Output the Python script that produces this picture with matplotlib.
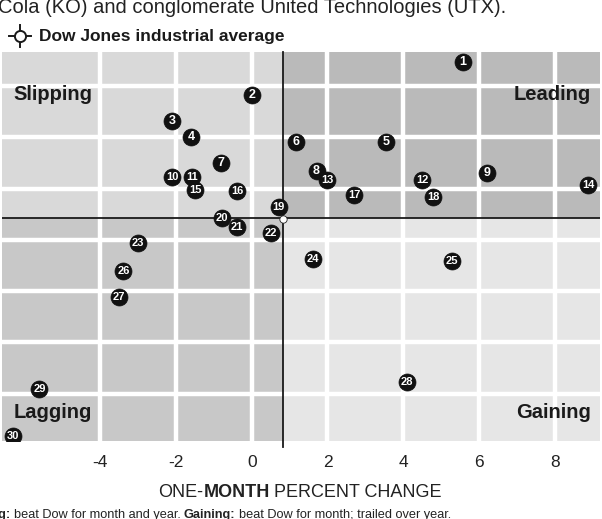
import matplotlib
matplotlib.use("Agg")
import matplotlib.pyplot as plt
from matplotlib.lines import Line2D

# ---- data ----
labels = list(range(1, 31))
month_change = [5.58, 0.00, -2.11, -1.61, 3.55, 1.18, -0.82, 1.71, 6.21, -2.11,
                -1.58, 4.50, 2.00, 8.89, -1.50, -0.39, 2.71, 4.79, 0.71, -0.79,
                -0.39, 0.50, -3.00, 1.61, 5.29, -3.39, -3.50, 4.11, -5.61, -6.32]
year_change = [34.7, 28.3, 23.2, 20.1, 19.1, 19.1, 15.0, 13.5, 13.1, 12.3,
               12.3, 11.7, 11.7, 10.7, 9.7, 9.6, 8.8, 8.4, 6.4, 4.3,
               2.5, 1.4, -0.6, -3.7, -4.1, -6.0, -11.1, -27.7, -29.0, -38.2]
dow_month = 0.82
dow_year = 4.3
x_ticks = [-4, -2, 0, 2, 4, 6, 8]
y_grid = [-30, -20, -10, 0, 10, 20, 30]
quadrants = {"Slipping": "#d9d9d9", "Leading": "#bababa",
             "Lagging": "#c8c8c8", "Gaining": "#e6e6e6"}

XMIN, XMAX = -6.6, 9.2
YMIN, YMAX = -39.2, 36.6

W, H = 602, 519
fig = plt.figure(figsize=(W / 100, H / 100), dpi=100)
fig.patch.set_facecolor("white")
ax = fig.add_axes([2 / W, 1 - 441 / H, 598 / W, 389 / H])
ax.set_xlim(XMIN, XMAX)
ax.set_ylim(YMIN, YMAX)
for s in ax.spines.values():
    s.set_visible(False)

# quadrant backgrounds
ax.fill_between([XMIN, dow_month], dow_year, YMAX, color=quadrants["Slipping"], lw=0, zorder=0)
ax.fill_between([dow_month, XMAX], dow_year, YMAX, color=quadrants["Leading"], lw=0, zorder=0)
ax.fill_between([XMIN, dow_month], YMIN, dow_year, color=quadrants["Lagging"], lw=0, zorder=0)
ax.fill_between([dow_month, XMAX], YMIN, dow_year, color=quadrants["Gaining"], lw=0, zorder=0)

# white grid
for xv in x_ticks:
    ax.axvline(xv, color="white", lw=3.2, zorder=1)
for yv in y_grid:
    ax.axhline(yv, color="white", lw=3.2, zorder=1)

# Dow axes
ax.axhline(dow_year, color="#1a1a1a", lw=1.3, zorder=2)
ax.add_line(Line2D([dow_month, dow_month], [YMAX, YMIN - 1.2], color="#1a1a1a",
                   lw=1.3, zorder=2, clip_on=False))

# points
fam = "Liberation Sans"
ax.scatter(month_change, year_change, s=150, color="#111111", zorder=4,
           edgecolors="#111111", linewidths=0.5)
for lab, xv, yv in zip(labels, month_change, year_change):
    ax.text(xv, yv, str(lab), color="white", fontsize=9 if lab < 10 else 8,
            fontweight="bold", family=fam,
            ha="center", va="center", zorder=5)

# Dow marker
ax.scatter([dow_month], [dow_year - 0.3], s=28, color="white", edgecolors="#222222",
           linewidths=0.6, zorder=5)

# quadrant labels
kw = dict(fontsize=14.5, fontweight="bold", family=fam, color="#1a1a1a", zorder=6)
ax.text(-6.3, 28.3, "Slipping", ha="left", va="center", **kw)
ax.text(8.95, 28.3, "Leading", ha="right", va="center", **kw)
ax.text(-6.3, -33.6, "Lagging", ha="left", va="center", **kw)
ax.text(8.95, -33.6, "Gaining", ha="right", va="center", **kw)

# x ticks
ax.set_xticks(x_ticks)
ax.set_xticklabels([f"{t}" if t >= 0 else f"-{abs(t)}" for t in x_ticks],
                   family=fam, fontsize=12.5, color="#222222")
ax.tick_params(axis="x", length=0, pad=10)
ax.set_yticks([])

# legend at top
fx = lambda px: px / W
fy = lambda py: 1 - py / H
lx, ly = 20, 36
fig.add_artist(Line2D([fx(lx - 11), fx(lx + 11)], [fy(ly), fy(ly)], color="#1a1a1a", lw=1.4))
fig.add_artist(Line2D([fx(lx), fx(lx)], [fy(ly - 11), fy(ly + 11)], color="#1a1a1a", lw=1.4))
fig.add_artist(Line2D([fx(lx)], [fy(ly)], marker="o", ms=8, mfc="white",
                      mec="#1a1a1a", mew=1.4, lw=0))
fig.text(fx(39), fy(ly), "Dow Jones industrial average", fontsize=12.5,
         fontweight="bold", family=fam, color="#1a1a1a",
         ha="left", va="center")

# cropped top text
fig.text(fx(-2), fy(13), "Cola (KO) and conglomerate United Technologies (UTX).",
         fontsize=14.5, family=fam, color="#222222",
         ha="left", va="baseline")

# helper for runs of mixed-weight text
fig.canvas.draw()
renderer = fig.canvas.get_renderer()


def run_text(x_px, y_px, pieces, size):
    x = x_px
    made = []
    for txt, weight, gap in pieces:
        t = fig.text(fx(x), fy(y_px), txt, fontsize=size, fontweight=weight,
                     family=fam, color="#222222", ha="left", va="baseline")
        made.append(t)
        bb = t.get_window_extent(renderer=renderer)
        x += bb.width + gap
    return x, made


# x-axis title (centered, mixed weight)
title_pieces = [("ONE-", "normal", 0), ("MONTH", "bold", 4.5), ("PERCENT CHANGE", "normal", 0)]
end, made = run_text(0, 600, title_pieces, 13)
for t in made:
    t.remove()
run_text(300 - end / 2, 497, title_pieces, 13)

# cropped bottom note
run_text(-43, 518, [("Leading:", "bold", 3.5), ("beat Dow for month and year.", "normal", 3.5),
                    ("Gaining:", "bold", 3.5), ("beat Dow for month; trailed over year.", "normal", 0)], 9.2)

fig.savefig("out.png", dpi=100, facecolor="white")
